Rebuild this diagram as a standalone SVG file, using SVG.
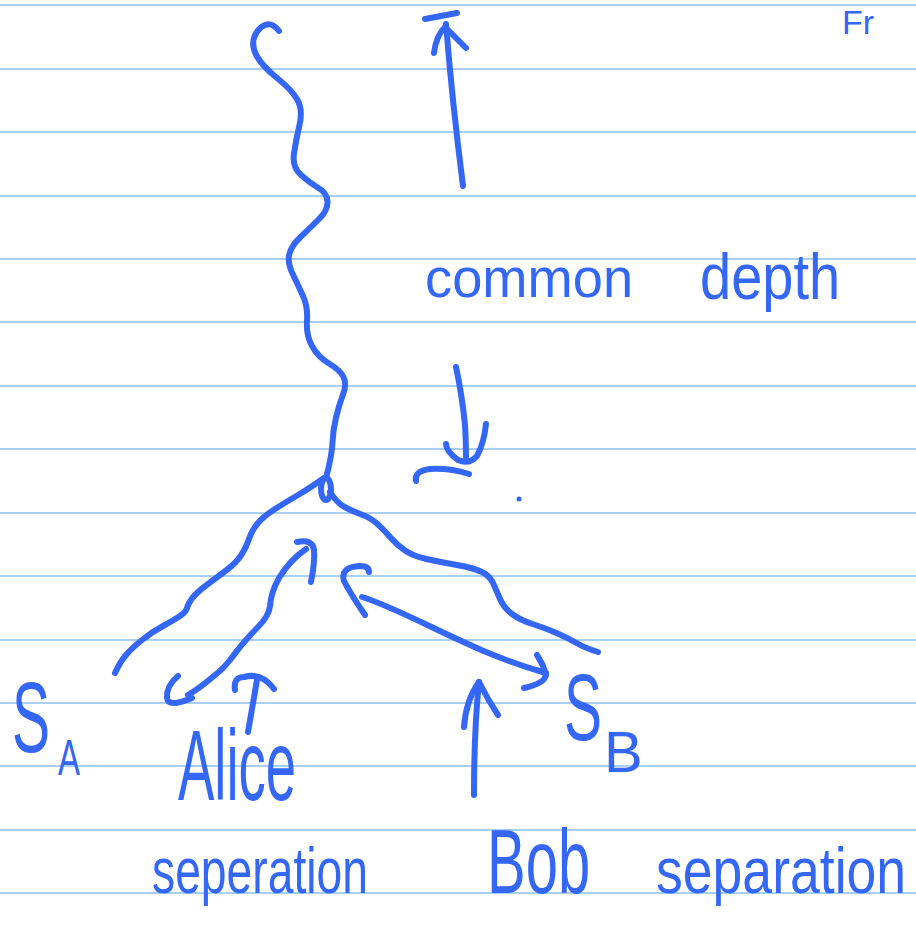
<svg xmlns="http://www.w3.org/2000/svg" width="916" height="935" viewBox="0 0 916 935">
<style>
.rule{stroke:#a9cff7;stroke-width:2}
.ink{fill:none;stroke:#3467f5;stroke-width:6;stroke-linecap:round;stroke-linejoin:round}
.txt{fill:#3467f5;font-family:"Liberation Sans",Arial,sans-serif}
</style>
<rect width="916" height="935" fill="#ffffff"/>
<g id="paper-lines">
<line class="rule" x1="0" y1="5" x2="916" y2="5"/>
<line class="rule" x1="0" y1="69" x2="916" y2="69"/>
<line class="rule" x1="0" y1="132" x2="916" y2="132"/>
<line class="rule" x1="0" y1="196" x2="916" y2="196"/>
<line class="rule" x1="0" y1="259" x2="916" y2="259"/>
<line class="rule" x1="0" y1="322" x2="916" y2="322"/>
<line class="rule" x1="0" y1="386" x2="916" y2="386"/>
<line class="rule" x1="0" y1="449" x2="916" y2="449"/>
<line class="rule" x1="0" y1="513" x2="916" y2="513"/>
<line class="rule" x1="0" y1="576" x2="916" y2="576"/>
<line class="rule" x1="0" y1="640" x2="916" y2="640"/>
<line class="rule" x1="0" y1="703" x2="916" y2="703"/>
<line class="rule" x1="0" y1="766" x2="916" y2="766"/>
<line class="rule" x1="0" y1="830" x2="916" y2="830"/>
<line class="rule" x1="0" y1="893" x2="916" y2="893"/>
</g>
<g id="connectors">
<path id="wavy" class="ink" d="M279,31 Q272,22 265,25 Q258,28 254.5,36.5 Q251,45 256.5,55.5 Q262,66 277,78 Q292,90 297.5,100 Q303,110 299.5,125 Q296,140 294,153.5 Q292,167 301,175 Q310,183 318.5,188 Q327,193 327.5,201.5 Q328,210 319,219 Q310,228 301,236.5 Q292,245 289.5,253.5 Q287,262 292.5,273.5 Q298,285 303,296 Q308,307 307,321 Q306,335 312,346 Q318,357 329,363.5 Q340,370 343.5,377 Q347,384 343,394.5 Q339,405 336,417.5 Q333,430 332.5,442.5 Q332,455 326,478"/>
<path id="branch-a" class="ink" d="M324,478 Q310,488 298,495 Q286,502 275,509 Q264,516 258,523 Q252,530 249,539 Q246,548 241,555.5 Q236,563 226,570.5 Q216,578 206,585.5 Q196,593 192,598.5 Q188,604 187,608 Q186,612 180,616 Q174,620 163,626 Q152,632 142,640 Q132,648 126,655 Q120,662 115,673"/>
<path id="branch-b" class="ink" d="M330,492 Q337,503 344.5,507 Q352,511 361.5,514.5 Q371,518 377.5,524 Q384,530 390.5,537.5 Q397,545 405,550.5 Q413,556 426.5,559 Q440,562 457,565 Q474,568 482,572 Q490,576 493.5,584 Q497,592 500.5,600 Q504,608 512,614 Q520,620 532.5,624 Q545,628 556.5,633 Q568,638 576.5,643 Q585,648 598,652"/>
<g id="depth-up-arrow">
<path class="ink" d="M425,19 L457,13"/>
<path class="ink" d="M463,186 Q452,100 446,24"/>
<path class="ink" d="M434,53 Q436,36 445,27 L466,48"/>
</g>
<g id="depth-down-arrow">
<path class="ink" d="M456,367 Q462,395 465,425 Q466,440 466,457"/>
<path class="ink" d="M446,444 Q446,451 458,460 Q469,465 477,456 Q484,443 486,424"/>
<path class="ink" d="M416,481 Q414,471 430,469 Q450,468 469,474"/>
</g>
<circle cx="519" cy="499" r="2.5" fill="#3467f5"/>
<g id="alice-arrow">
<path class="ink" d="M297,542 Q313,539 314,550 Q315,562 311,582"/>
<path class="ink" d="M306,549 Q290,560 279,578 Q271,592 270,606 Q269,616 258,627 Q243,642 230,660 Q222,670 215,675 Q200,688 188,695"/>
<path class="ink" d="M178,676 Q166,686 167,698 Q168,708 192,698"/>
<path class="ink" d="M248,732 L257,680"/>
<path class="ink" d="M235,690 Q233,677 244,677 Q262,672 274,689"/>
</g>
<g id="bob-arrow">
<path class="ink" d="M365,615 Q350,593 344,581 Q340,567 360,566 Q369,566 369,572"/>
<path class="ink" d="M362,597 C410,612 470,652 546,673"/>
<path class="ink" d="M537,655 Q543,664 546,674 Q546,683 524,688"/>
<path class="ink" d="M474,795 Q474,730 479,682"/>
<path class="ink" d="M464,727 Q466,700 479,682 Q488,700 498,715"/>
</g>
<ellipse id="node" class="ink" cx="326" cy="489" rx="5" ry="11"/>
</g>
<g id="labels">
<text class="txt" x="842" y="34" font-size="34">Fr</text>
<text class="txt" transform="translate(425,297) scale(0.97,1)" font-size="56">common</text>
<text class="txt" transform="translate(700,299) scale(0.875,1)" font-size="64">depth</text>
<g id="sa"><text class="txt" transform="translate(12,752) scale(0.57,1)" font-size="100">S</text>
<text class="txt" transform="translate(58,775) scale(0.66,1)" font-size="50">A</text></g>
<g id="sb"><text class="txt" transform="translate(564,740) scale(0.6,1)" font-size="95">S</text>
<text class="txt" x="604" y="772" font-size="58">B</text></g>
<text class="txt" transform="translate(178,800) scale(0.545,1)" font-size="100">Alice</text>
<text class="txt" transform="translate(152,893) scale(0.723,1)" font-size="64">seperation</text>
<text class="txt" transform="translate(487,893) scale(0.644,1)" font-size="90">Bob</text>
<text class="txt" transform="translate(656,893) scale(0.837,1)" font-size="64">separation</text>
</g>
</svg>
